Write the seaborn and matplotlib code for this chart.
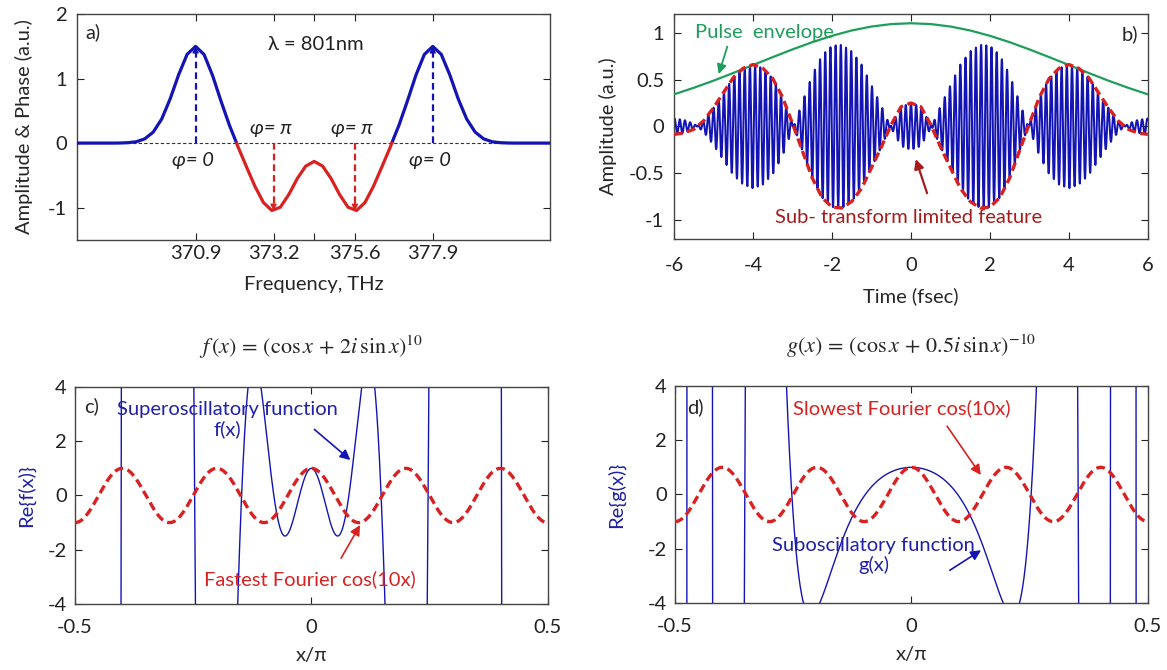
import numpy as np
import pandas as pd
import matplotlib
matplotlib.use('Agg')
import matplotlib.pyplot as plt
import seaborn as sns

# ---------------- data ----------------
# a) spectrum amplitude (read off the picture)
freq_thz = [367.4, 368.4, 368.65, 368.9, 369.15, 369.4, 369.65, 369.9, 370.15, 370.4,
            370.65, 370.9, 371.15, 371.4, 371.65, 371.9, 372.11, 372.15, 372.4, 372.65,
            372.9, 373.15, 373.4, 373.65, 373.9, 374.15, 374.4, 374.65, 374.9, 375.15,
            375.4, 375.65, 375.9, 376.15, 376.4, 376.65, 376.69, 376.9, 377.15, 377.4,
            377.65, 377.9, 378.15, 378.4, 378.65, 378.9, 379.15, 379.4, 379.65, 379.9,
            380.15, 380.4, 381.4]
spec_amp = [0.0, 0.0, 0.001, 0.006, 0.021, 0.066, 0.171, 0.374, 0.687, 1.061,
            1.376, 1.499, 1.373, 1.049, 0.650, 0.274, 0.0, -0.056, -0.366, -0.669,
            -0.920, -1.045, -0.994, -0.798, -0.550, -0.357, -0.284, -0.357, -0.550, -0.798,
            -0.994, -1.045, -0.920, -0.669, -0.366, -0.056, 0.0, 0.274, 0.650, 1.049,
            1.373, 1.499, 1.376, 1.061, 0.687, 0.374, 0.171, 0.066, 0.021, 0.006,
            0.001, 0.0, 0.0]
zero_crossings = [372.11, 376.69]
peak_freqs = [370.9, 373.2, 375.6, 377.9]
peak_amps = [1.5, -1.05, -1.05, 1.5]
phase_labels = ['φ= 0', 'φ= π', 'φ= π', 'φ= 0']
freq_ticks = [370.9, 373.2, 374.4, 375.6, 377.9]
freq_ticklabels = ['370.9', '373.2', '', '375.6', '377.9']

# b) pulse: sub-transform-limited envelope and pulse envelope (read off)
t_fs = [-6, -5.75, -5.5, -5.25, -5, -4.75, -4.5, -4.25, -4, -3.75, -3.5, -3.25, -3,
        -2.75, -2.5, -2.25, -2, -1.75, -1.5, -1.25, -1, -0.75, -0.5, -0.25, 0,
        0.25, 0.5, 0.75, 1, 1.25, 1.5, 1.75, 2, 2.25, 2.5, 2.75, 3,
        3.25, 3.5, 3.75, 4, 4.25, 4.5, 4.75, 5, 5.25, 5.5, 5.75, 6]
sub_tl_env = [-0.085, -0.07, -0.03, 0.06, 0.20, 0.36, 0.52, 0.62, 0.66, 0.62, 0.51, 0.31, 0.03,
              -0.26, -0.55, -0.76, -0.86, -0.87, -0.80, -0.66, -0.44, -0.22, 0.02, 0.21, 0.25,
              0.21, 0.02, -0.22, -0.44, -0.66, -0.80, -0.87, -0.86, -0.76, -0.55, -0.26, 0.03,
              0.31, 0.51, 0.62, 0.66, 0.62, 0.52, 0.36, 0.20, 0.06, -0.03, -0.07, -0.085]
t_pulse = [-6, -5.5, -5, -4.5, -4, -3.5, -3, -2.5, -2, -1.5, -1, -0.5, 0,
           0.5, 1, 1.5, 2, 2.5, 3, 3.5, 4, 4.5, 5, 5.5, 6]
pulse_env = [0.342, 0.412, 0.488, 0.570, 0.655, 0.739, 0.821, 0.898, 0.966, 1.023, 1.065, 1.091, 1.10,
             1.091, 1.065, 1.023, 0.966, 0.898, 0.821, 0.739, 0.655, 0.570, 0.488, 0.412, 0.342]
carrier_cycles_per_fs = 7.6
b_yticks = [-1, -0.5, 0, 0.5, 1]
b_yticklabels = ['-1', '-0.5', '0', '0.5', '1']

# c), d) functions given in the panel titles
x_range = [-0.5, 0.5]
super_coef, super_power = 2.0, 10
sub_coef, sub_power = 0.5, -10
fourier_k = 10

# ---------------- style ----------------
sns.set_theme(style='ticks')
plt.rcParams['font.family'] = ['Lato', 'DejaVu Sans']
plt.rcParams['mathtext.fontset'] = 'stix'
plt.rcParams['axes.unicode_minus'] = False

BLUE = '#1414b4'
RED = '#d82222'
DKRED = '#a51c1c'
GREEN = '#1e9e5a'
TXTBLUE = '#2020a8'
FS = 14.5

fig = plt.figure(figsize=(11.67, 6.7), dpi=100)
ax_a = fig.add_axes([0.066, 0.642, 0.405, 0.337])
ax_b = fig.add_axes([0.5776, 0.6433, 0.406, 0.336])
ax_c = fig.add_axes([0.0643, 0.0985, 0.405, 0.324])
ax_d = fig.add_axes([0.5784, 0.100, 0.4053, 0.324])

for ax in (ax_a, ax_b, ax_c, ax_d):
    ax.tick_params(direction='in', top=True, right=True, length=5, width=0.8,
                   labelsize=FS, colors='#222222')
    for s in ax.spines.values():
        s.set_color('#444444')
        s.set_linewidth(1.0)

# ---------------- a) ----------------
df_a = pd.DataFrame({'freq': freq_thz, 'amp': spec_amp})
pos = df_a[df_a['amp'] >= 0].copy()
pos['seg'] = (pos['freq'] > 374.4).astype(int)
neg = df_a[(df_a['freq'] >= zero_crossings[0]) & (df_a['freq'] <= zero_crossings[1])]
ax_a.axhline(0, color='#333333', lw=0.8, ls=(0, (3, 2)), zorder=1)
sns.lineplot(data=pos, x='freq', y='amp', units='seg', estimator=None, sort=False,
             color=BLUE, lw=2.3, ax=ax_a, zorder=3)
sns.lineplot(data=neg, x='freq', y='amp', estimator=None, sort=False,
             color=RED, lw=2.3, ax=ax_a, zorder=3)
for f0, a0 in zip(peak_freqs, peak_amps):
    c = BLUE if a0 > 0 else RED
    ax_a.plot([f0, f0], [0, a0], color=c, lw=1.6, ls=(0, (3, 1.8)), zorder=2)
    ax_a.annotate('', xy=(f0, a0), xytext=(f0, a0 - 0.12 * np.sign(a0)),
                  arrowprops=dict(arrowstyle='-|>', color=c, lw=1.0, mutation_scale=9,
                                  shrinkA=0, shrinkB=0), zorder=4)
for f0, a0, lab in zip(peak_freqs, peak_amps, phase_labels):
    yl = -0.27 if a0 > 0 else 0.23
    ax_a.text(f0 - 0.08, yl, lab, ha='center', va='center', fontsize=FS, style='italic', color='#222222')
ax_a.text(374.45, 1.53, 'λ = 801nm', ha='center', va='center', fontsize=FS, color='#222222')
ax_a.text(0.018, 0.92, 'a)', transform=ax_a.transAxes, ha='left', va='center', fontsize=FS)
ax_a.set_xlim(367.4, 381.35)
ax_a.set_ylim(-1.5, 2)
ax_a.set_xticks(freq_ticks)
ax_a.set_xticklabels(freq_ticklabels)
ax_a.set_yticks([-1, 0, 1, 2])
ax_a.tick_params(axis='x', pad=4)
ax_a.tick_params(axis='y', pad=7)
ax_a.set_xlabel('Frequency, THz', fontsize=FS)
ax_a.set_ylabel('Amplitude & Phase (a.u.)', fontsize=FS)
ax_a.xaxis.set_label_coords(0.5, -0.16)
ax_a.yaxis.set_label_coords(-0.093, 0.5)

# ---------------- b) ----------------
t_fine = np.linspace(-6, 6, 8001)
carrier = np.interp(t_fine, t_fs, sub_tl_env) * np.cos(2 * np.pi * carrier_cycles_per_fs * t_fine)
df_carrier = pd.DataFrame({'t': t_fine, 'E': carrier})
sns.lineplot(data=df_carrier, x='t', y='E', estimator=None, sort=False,
             color=BLUE, lw=1.45, ax=ax_b, zorder=2)
sns.lineplot(x=t_pulse, y=pulse_env, estimator=None, sort=False,
             color=GREEN, lw=1.6, ax=ax_b, zorder=3)
ax_b.plot(t_fs, sub_tl_env, color=RED, lw=2.4, ls=(0, (2.6, 1.4)), zorder=4)
ax_b.text(-3.72, 1.0, 'Pulse  envelope', color=GREEN, fontsize=FS, ha='center', va='center')
ax_b.annotate('', xy=(-4.89, 0.53), xytext=(-4.63, 0.88),
              arrowprops=dict(arrowstyle='-|>', color=GREEN, lw=1.3, mutation_scale=14))
ax_b.text(-0.05, -0.97, 'Sub- transform limited feature', color=DKRED, fontsize=FS,
          ha='center', va='center')
ax_b.annotate('', xy=(0.1, -0.32), xytext=(0.43, -0.74),
              arrowprops=dict(arrowstyle='-|>', color=DKRED, lw=1.6, mutation_scale=14))
ax_b.text(5.54, 0.98, 'b)', ha='center', va='center', fontsize=FS)
ax_b.set_xlim(-6, 6)
ax_b.set_ylim(-1.2, 1.2)
ax_b.set_xticks([-6, -4, -2, 0, 2, 4, 6])
ax_b.set_yticks(b_yticks)
ax_b.set_yticklabels(b_yticklabels)
ax_b.tick_params(axis='x', pad=13)
ax_b.tick_params(axis='y', pad=7)
ax_b.set_xlabel('Time (fsec)', fontsize=FS)
ax_b.set_ylabel('Amplitude (a.u.)', fontsize=FS)
ax_b.xaxis.set_label_coords(0.5, -0.213)
ax_b.yaxis.set_label_coords(-0.12, 0.5)

# ---------------- c), d) ----------------
xpi = np.linspace(x_range[0], x_range[1], 40001)
xr = np.pi * xpi
f_re = np.real((np.cos(xr) + 1j * super_coef * np.sin(xr)) ** super_power)
g_re = np.real((np.cos(xr) + 1j * sub_coef * np.sin(xr)) ** sub_power)
fourier = np.cos(fourier_k * xr)

for ax, yre, ylab, title in (
        (ax_c, f_re, 'Re{f(x)}', r'$f\,(x)\,=\,(\cos x\,+\,2i\,\sin x)^{10}$'),
        (ax_d, g_re, 'Re{g(x)}', r'$g(x)\,=\,(\cos x\,+\,0.5i\,\sin x)^{-10}$')):
    ax.plot(xpi, yre, color=BLUE, lw=1.0, zorder=2)
    sns.lineplot(x=xpi[::20], y=fourier[::20], estimator=None, sort=False,
                 color=RED, lw=2.4, ls=(0, (2.6, 1.4)), ax=ax, zorder=3)
    ax.set_xlim(-0.5, 0.5)
    ax.set_ylim(-4, 4)
    ax.set_xticks([-0.5, 0, 0.5])
    ax.set_xticklabels(['-0.5', '0', '0.5'])
    ax.set_yticks([-4, -2, 0, 2, 4])
    ax.tick_params(axis='x', pad=11)
    ax.tick_params(axis='y', pad=6)
    ax.set_xlabel('x/π', fontsize=FS)
    ax.set_ylabel(ylab, fontsize=FS, color=TXTBLUE)
    ax.xaxis.set_label_coords(0.5, -0.198)
    ax.set_title(title, fontsize=16, pad=24)

ax_c.yaxis.set_label_coords(-0.085, 0.5)
ax_d.yaxis.set_label_coords(-0.106, 0.5)

ax_c.text(-0.465, 3.3, 'c)', ha='center', va='center', fontsize=FS)
ax_c.text(-0.178, 2.8, 'Superoscillatory function\nf(x)', color=TXTBLUE, fontsize=FS,
          ha='center', va='center', linespacing=1.15)
ax_c.annotate('', xy=(0.087, 1.24), xytext=(0.002, 2.5),
              arrowprops=dict(arrowstyle='-|>', color=BLUE, lw=1.2, mutation_scale=15))
ax_c.text(-0.004, -3.1, 'Fastest Fourier cos(10x)', color=RED, fontsize=FS,
          ha='center', va='center')
ax_c.annotate('', xy=(0.106, -1.0), xytext=(0.06, -2.4),
              arrowprops=dict(arrowstyle='-|>', color=RED, lw=1.2, mutation_scale=15))

ax_d.text(-0.457, 3.2, 'd)', ha='center', va='center', fontsize=FS)
ax_d.text(-0.02, 3.17, 'Slowest Fourier cos(10x)', color=RED, fontsize=FS,
          ha='center', va='center')
ax_d.annotate('', xy=(0.15, 0.63), xytext=(0.072, 2.6),
              arrowprops=dict(arrowstyle='-|>', color=RED, lw=1.2, mutation_scale=15))
ax_d.text(-0.08, -2.25, 'Suboscillatory function\ng(x)', color=TXTBLUE, fontsize=FS,
          ha='center', va='center', linespacing=1.15)
ax_d.annotate('', xy=(0.152, -2.0), xytext=(0.076, -2.85),
              arrowprops=dict(arrowstyle='-|>', color=BLUE, lw=1.2, mutation_scale=15))

fig.savefig('out.png', dpi=100)
